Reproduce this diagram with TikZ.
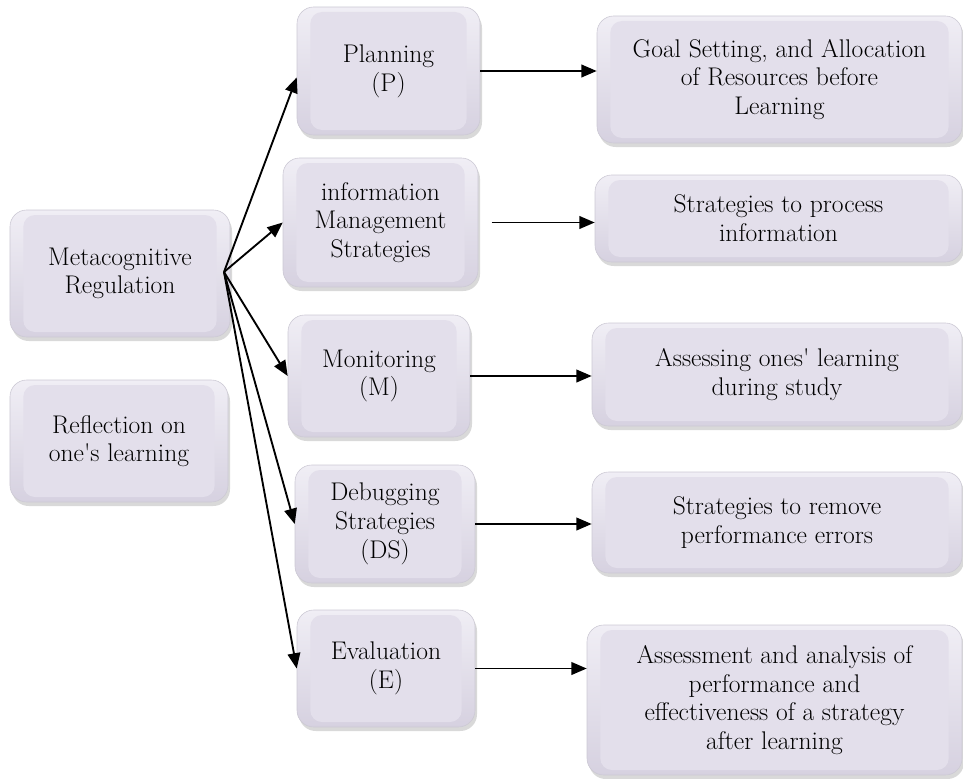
\documentclass[tikz,border=0pt]{standalone}
\usepackage{tikz}
\usetikzlibrary{arrows.meta,shadows}

\definecolor{boxface}{RGB}{227,223,235}
\definecolor{boxtop}{RGB}{240,238,245}
\definecolor{boxbot}{RGB}{214,209,224}
\definecolor{boxline}{RGB}{204,201,212}

\begin{document}
\begin{tikzpicture}[
  x=0.3mm, y=-0.3mm,
  every node/.style={font=\fontsize{21.8}{24.5}\selectfont},
  blk/.style={draw=boxline, line width=0.5pt, rounded corners=5mm,
              top color=boxtop, bottom color=boxbot, align=center,
              drop shadow={shadow xshift=0.6mm, shadow yshift=-1.2mm, opacity=0.3},
              path picture={\fill[boxface, rounded corners=3.5mm]
                ([shift={(4mm,-1.5mm)}]path picture bounding box.north west) rectangle
                ([shift={(-4mm,1.5mm)}]path picture bounding box.south east);}},
  arr/.style={-{Triangle[length=4.6mm,width=3.8mm]}, line width=1.6pt}
]
\useasboundingbox (0,0) rectangle (963,778);

% left column
\node[blk, minimum width=6.6cm, minimum height=3.81cm] (meta) at (120,273.5) {Metacognitive\\Regulation};
\node[blk, minimum width=6.54cm, minimum height=3.66cm] (refl) at (119,441) {Reflection on\\one\textquotesingle s learning};

% middle column
\node[blk, minimum width=5.49cm, minimum height=3.84cm] (plan) at (388.5,71) {Planning\\(P)};
\node[blk, minimum width=5.85cm, minimum height=3.87cm] (info) at (380.5,222.5) {information\\Management\\Strategies};
\node[blk, minimum width=5.46cm, minimum height=3.66cm] (mon) at (379,376) {Monitoring\\(M)};
\node[blk, minimum width=5.4cm, minimum height=3.54cm] (dbg) at (385,524) {Debugging\\Strategies\\(DS)};
\node[blk, minimum width=5.34cm, minimum height=3.51cm] (eval) at (386,668.5) {Evaluation\\(E)};

% right column
\node[blk, minimum width=10.95cm, minimum height=3.81cm] (goal) at (779.5,79.5) {Goal Setting, and Allocation\\of Resources before\\Learning};
\node[blk, minimum width=11.01cm, minimum height=2.61cm] (proc) at (778.5,218.5) {Strategies to process\\information};
\node[blk, minimum width=11.1cm, minimum height=3.09cm] (asse) at (777,374.5) {Assessing ones\textquotesingle{} learning\\during study};
\node[blk, minimum width=11.1cm, minimum height=3.03cm] (remv) at (777,522.5) {Strategies to remove\\performance errors};
\node[blk, minimum width=11.25cm, minimum height=4.5cm] (anal) at (774.5,700) {Assessment and analysis of\\performance and\\effectiveness of a strategy\\after learning};

\coordinate (hub) at (224,272);

\draw[arr] (hub) -- (plan.184);
\draw[arr] (hub) -- (info.west);
\draw[arr] (hub) -- (mon.west);
\draw[arr] (hub) -- (dbg.west);
\draw[arr] (hub) -- (eval.west);

\draw[arr] (plan.east) -- (plan.east -| goal.west);
\draw[arr] ([xshift=4mm]info.east) -- (info.east -| proc.west);
\draw[arr] (mon.east) -- (mon.east -| asse.west);
\draw[arr] (dbg.east) -- (dbg.east -| remv.west);
\draw[arr] (eval.east) -- (eval.east -| anal.west);
\end{tikzpicture}
\end{document}
